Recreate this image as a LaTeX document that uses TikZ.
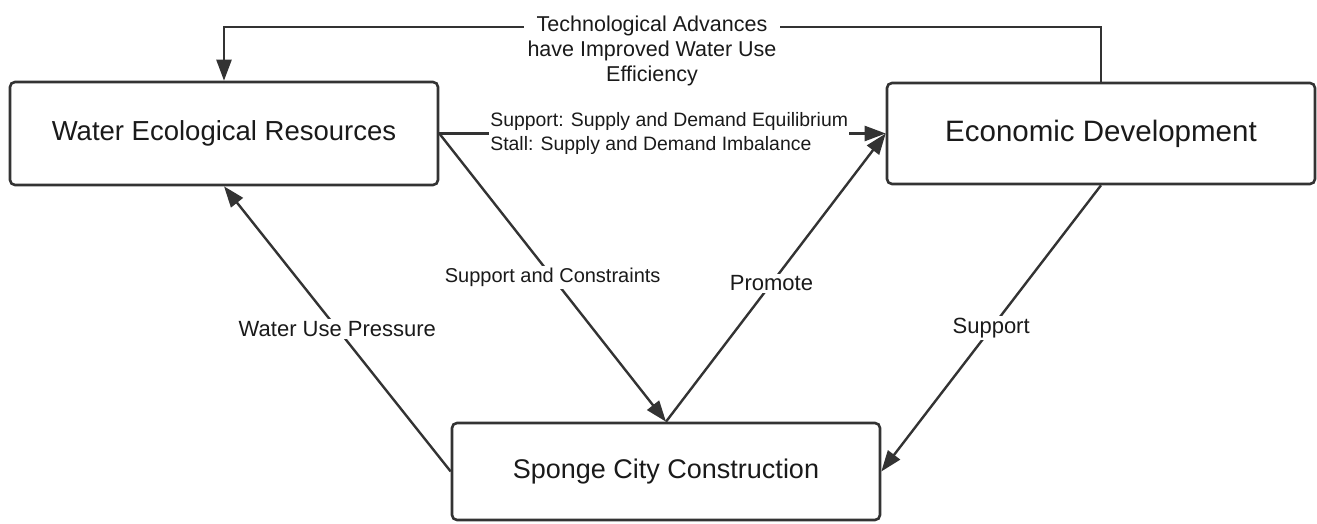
\documentclass[tikz,border=0pt]{standalone}
\usepackage{fontspec}
\setmainfont{Liberation Sans}
\usetikzlibrary{arrows.meta}
\definecolor{ink}{HTML}{333333}
\definecolor{txt}{HTML}{1A1A1A}
\tikzset{
  box/.style={draw=ink, line width=2.6pt, rounded corners=5pt, fill=white,
    minimum width=428pt, inner sep=0pt, text=txt},
  arr/.style={draw=ink, line width=2.4pt, -{Triangle[length=21pt,width=15pt]}},
  lbl/.style={fill=white, inner sep=2pt, text=txt, font=\fontsize{22}{26}\selectfont},
}
\begin{document}
\begin{tikzpicture}[x=1pt,y=1pt]
\useasboundingbox (0,0) rectangle (1317,524);
\node[box, minimum height=103pt, font=\fontsize{27.5}{32}\selectfont] (A) at (224,390.5) {Water Ecological Resources};
\node[box, minimum height=101pt, font=\fontsize{29.5}{34}\selectfont] (B) at (1101,390.5) {Economic Development};
\node[box, minimum height=97pt, font=\fontsize{27}{32}\selectfont] (C) at (666,52.5) {Sponge City Construction};
\coordinate (topR) at (1101,497);
\draw[arr] (B.north) -- (topR) -| (A.north);
\node[lbl, align=center, inner sep=4pt, font=\fontsize{21.5}{25}\selectfont] (tl) at (652,473) {Technological Advances\\have Improved Water Use\\Efficiency};
\draw[arr] (C.west) -- node[lbl] {Water Use Pressure} (A.south);
\draw[arr] (A.east) -- node[lbl, font=\fontsize{20}{24}\selectfont] {Support and Constraints} (C.north);
\draw[arr] (C.north) -- node[lbl, pos=0.48] {Promote} (B.west);
\draw[arr] (A.east) -- node[lbl, pos=0.515, align=left, inner sep=1pt, font=\fontsize{19.4}{24}\selectfont] {Support: Supply and Demand Equilibrium\\Stall: Supply and Demand Imbalance} (B.west);
\draw[arr] (B.south) -- node[lbl] {Support} (C.east);
\end{tikzpicture}
\end{document}
